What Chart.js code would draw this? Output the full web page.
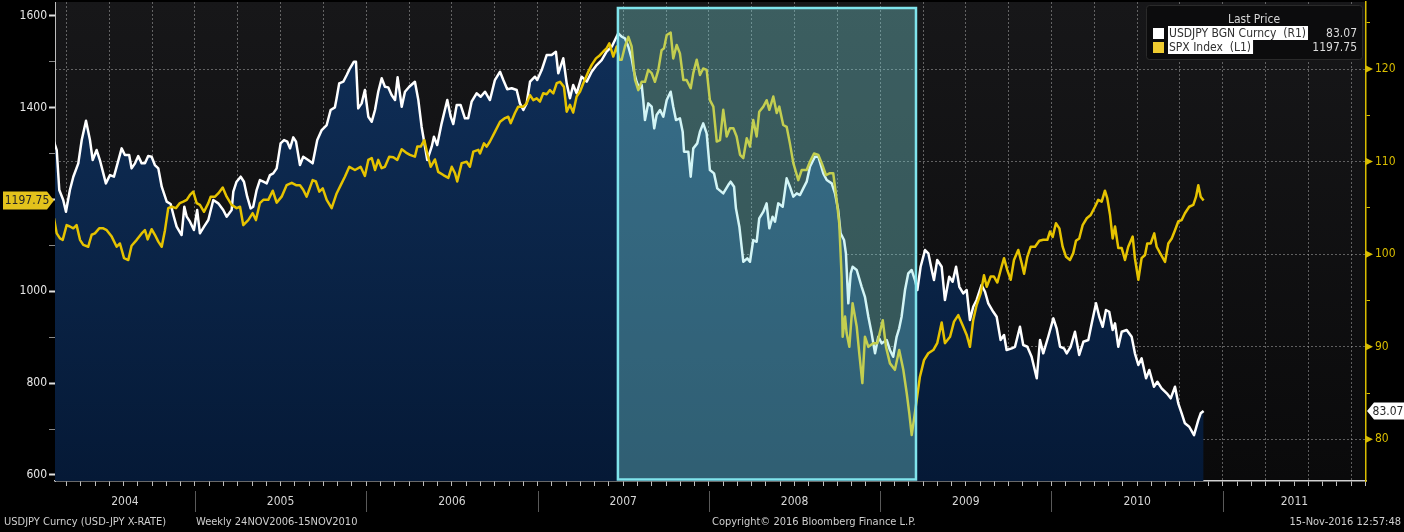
<!DOCTYPE html>
<html>
<head>
<meta charset="utf-8">
<title>USDJPY vs SPX</title>
<script src="https://cdn.jsdelivr.net/npm/chart.js@4.4.1/dist/chart.umd.min.js"></script>
<style>
    html, body { margin: 0; padding: 0; background: #000; }
    #wrap { width: 1404px; height: 532px; }
</style>
</head>
<body>
<div id="wrap"><canvas id="chart" width="1404" height="532"></canvas></div>
<script>
/* ─────────────────────────────────────────
   DATA — weekly closes, dates in decimal years
───────────────────────────────────────── */
const jpyDates = [
    2004.177, 2004.193, 2004.208, 2004.231, 2004.247, 2004.270, 2004.290, 2004.319, 2004.339, 2004.364,
    2004.387, 2004.403, 2004.426, 2004.445, 2004.465, 2004.480, 2004.504, 2004.527, 2004.543, 2004.572,
    2004.591, 2004.616, 2004.630, 2004.650, 2004.669, 2004.689, 2004.708, 2004.727, 2004.747, 2004.766,
    2004.786, 2004.806, 2004.835, 2004.858, 2004.877, 2004.893, 2004.922, 2004.938, 2004.952, 2004.971,
    2004.994, 2005.013, 2005.029, 2005.053, 2005.078, 2005.107, 2005.136, 2005.165, 2005.185, 2005.214,
    2005.224, 2005.243, 2005.267, 2005.286, 2005.305, 2005.325, 2005.340, 2005.360, 2005.379, 2005.399,
    2005.419, 2005.438, 2005.457, 2005.477, 2005.500, 2005.520, 2005.539, 2005.555, 2005.574, 2005.590,
    2005.613, 2005.632, 2005.661, 2005.687, 2005.714, 2005.740, 2005.769, 2005.792, 2005.817, 2005.827,
    2005.842, 2005.866, 2005.886, 2005.905, 2005.928, 2005.940, 2005.953, 2005.973, 2005.992, 2006.012,
    2006.032, 2006.051, 2006.070, 2006.090, 2006.109, 2006.128, 2006.148, 2006.168, 2006.183, 2006.207,
    2006.226, 2006.251, 2006.284, 2006.304, 2006.323, 2006.333, 2006.356, 2006.382, 2006.395, 2006.414,
    2006.440, 2006.473, 2006.493, 2006.508, 2006.528, 2006.551, 2006.576, 2006.595, 2006.615, 2006.644,
    2006.668, 2006.693, 2006.722, 2006.751, 2006.781, 2006.800, 2006.823, 2006.849, 2006.878, 2006.897,
    2006.917, 2006.936, 2006.956, 2006.985, 2006.998, 2007.024, 2007.053, 2007.082, 2007.107, 2007.121,
    2007.150, 2007.170, 2007.189, 2007.208, 2007.228, 2007.257, 2007.287, 2007.316, 2007.345, 2007.374,
    2007.403, 2007.433, 2007.452, 2007.471, 2007.491, 2007.510, 2007.530, 2007.549, 2007.563, 2007.578,
    2007.594, 2007.608, 2007.617, 2007.627, 2007.646, 2007.666, 2007.681, 2007.695, 2007.715, 2007.734,
    2007.754, 2007.777, 2007.792, 2007.808, 2007.831, 2007.847, 2007.855, 2007.880, 2007.894, 2007.909,
    2007.932, 2007.948, 2007.967, 2007.987, 2008.006, 2008.030, 2008.049, 2008.084, 2008.113, 2008.127,
    2008.147, 2008.158, 2008.178, 2008.201, 2008.224, 2008.240, 2008.259, 2008.279, 2008.294, 2008.318,
    2008.337, 2008.353, 2008.372, 2008.386, 2008.405, 2008.431, 2008.454, 2008.473, 2008.493, 2008.513,
    2008.532, 2008.551, 2008.571, 2008.590, 2008.619, 2008.639, 2008.668, 2008.688, 2008.717, 2008.736,
    2008.755, 2008.769, 2008.789, 2008.800, 2008.814, 2008.828, 2008.839, 2008.863, 2008.892, 2008.911,
    2008.931, 2008.950, 2008.970, 2008.989, 2009.009, 2009.038, 2009.057, 2009.076, 2009.096, 2009.111,
    2009.125, 2009.145, 2009.164, 2009.184, 2009.203, 2009.217, 2009.236, 2009.262, 2009.281, 2009.301,
    2009.314, 2009.333, 2009.359, 2009.378, 2009.403, 2009.423, 2009.443, 2009.462, 2009.485, 2009.505,
    2009.524, 2009.543, 2009.563, 2009.592, 2009.612, 2009.631, 2009.660, 2009.680, 2009.703, 2009.723,
    2009.738, 2009.768, 2009.787, 2009.816, 2009.835, 2009.859, 2009.884, 2009.914, 2009.933, 2009.952,
    2009.981, 2010.011, 2010.030, 2010.050, 2010.073, 2010.089, 2010.112, 2010.137, 2010.162, 2010.186,
    2010.215, 2010.235, 2010.260, 2010.279, 2010.299, 2010.318, 2010.337, 2010.357, 2010.371, 2010.390,
    2010.410, 2010.439, 2010.468, 2010.487, 2010.507, 2010.526, 2010.552, 2010.571, 2010.598, 2010.618,
    2010.643, 2010.673, 2010.696, 2010.721, 2010.740, 2010.760, 2010.779, 2010.804, 2010.832, 2010.857,
    2010.871, 2010.888
];
const jpyValues = [
    112.15, 111.25, 106.93, 105.85, 104.59, 106.93, 108.37, 109.81, 112.33, 114.42,
    112.33, 110.17, 111.25, 110.17, 108.73, 107.65, 108.55, 108.37, 109.45, 111.43,
    110.71, 110.71, 109.27, 109.81, 110.60, 109.81, 109.81, 110.60, 110.53, 109.63,
    109.27, 107.29, 105.67, 105.42, 104.05, 102.97, 102.07, 105.13, 104.05, 103.51,
    102.61, 104.77, 102.25, 102.97, 103.69, 105.85, 105.49, 104.77, 104.05, 104.77,
    106.75, 107.83, 108.37, 107.83, 106.21, 104.95, 105.13, 106.93, 108.01, 107.83,
    107.65, 108.55, 108.73, 109.27, 111.97, 112.33, 112.15, 111.43, 112.62, 112.15,
    109.63, 110.53, 110.17, 109.81, 112.33, 113.41, 113.95, 115.57, 115.86, 116.84,
    118.45, 118.63, 119.35, 120.08, 120.79, 120.79, 115.75, 116.29, 117.73, 114.85,
    114.31, 115.57, 117.55, 119.00, 118.09, 118.02, 117.19, 116.65, 119.10, 115.93,
    117.55, 118.09, 118.63, 116.65, 113.77, 112.69, 110.17, 111.61, 112.69, 111.79,
    114.13, 116.65, 114.85, 114.06, 116.11, 116.11, 114.67, 114.67, 116.47, 117.38,
    117.01, 117.55, 116.65, 118.81, 119.71, 118.81, 117.81, 117.92, 117.73, 116.29,
    115.57, 116.29, 118.63, 119.17, 118.81, 119.89, 121.51, 121.51, 121.87, 119.54,
    121.16, 118.45, 116.84, 118.27, 117.38, 119.17, 118.63, 119.71, 120.43, 120.97,
    121.87, 122.41, 123.13, 123.86, 123.49, 123.32, 122.41, 121.16, 119.71, 118.63,
    117.92, 118.27, 116.65, 114.49, 116.29, 115.93, 113.59, 115.03, 115.57, 114.85,
    116.65, 117.55, 115.93, 114.49, 114.67, 113.23, 111.07, 111.07, 108.37, 111.43,
    111.97, 113.23, 114.13, 113.05, 109.09, 108.73, 107.11, 106.57, 107.47, 107.83,
    107.29, 104.95, 102.97, 99.18, 99.55, 99.18, 101.53, 101.34, 103.87, 104.59,
    105.49, 102.79, 104.05, 103.51, 105.49, 105.13, 108.19, 107.29, 106.21, 106.57,
    106.39, 107.11, 107.83, 109.45, 110.53, 110.53, 108.73, 108.01, 107.65, 106.57,
    104.77, 102.25, 101.53, 100.09, 94.69, 97.93, 98.64, 98.29, 96.48, 95.40,
    93.24, 91.45, 89.29, 91.08, 90.37, 90.73, 89.65, 88.92, 91.08, 91.99,
    93.24, 96.13, 97.93, 98.29, 97.21, 96.13, 98.64, 100.45, 100.09, 98.29,
    97.21, 99.37, 98.64, 95.05, 97.56, 97.02, 98.64, 96.48, 95.77, 96.13,
    92.89, 94.32, 95.05, 96.67, 95.94, 94.69, 93.78, 93.24, 90.73, 91.27,
    89.65, 89.83, 90.00, 92.16, 90.19, 90.00, 88.92, 86.59, 90.73, 89.29,
    91.08, 93.07, 91.99, 90.00, 89.83, 89.29, 90.00, 91.62, 89.11, 90.54,
    90.73, 92.53, 94.69, 93.24, 92.16, 93.97, 93.78, 91.81, 92.53, 90.00,
    91.62, 91.81, 91.08, 89.29, 88.03, 88.75, 86.59, 87.49, 85.68, 86.22,
    85.51, 84.97, 84.43, 85.68, 83.89, 82.81, 81.73, 81.36, 80.46, 82.08,
    82.81, 83.07
];

const spxDates = [
    2004.177, 2004.193, 2004.212, 2004.228, 2004.251, 2004.270, 2004.290, 2004.309, 2004.329, 2004.348,
    2004.377, 2004.397, 2004.416, 2004.441, 2004.465, 2004.485, 2004.514, 2004.543, 2004.562, 2004.586,
    2004.611, 2004.630, 2004.660, 2004.689, 2004.708, 2004.724, 2004.747, 2004.766, 2004.786, 2004.806,
    2004.825, 2004.844, 2004.864, 2004.889, 2004.912, 2004.932, 2004.952, 2004.971, 2004.990, 2005.010,
    2005.029, 2005.053, 2005.078, 2005.092, 2005.117, 2005.136, 2005.162, 2005.185, 2005.214, 2005.243,
    2005.263, 2005.282, 2005.311, 2005.337, 2005.356, 2005.379, 2005.399, 2005.428, 2005.454, 2005.477,
    2005.506, 2005.535, 2005.565, 2005.590, 2005.613, 2005.632, 2005.652, 2005.687, 2005.706, 2005.726,
    2005.746, 2005.769, 2005.798, 2005.827, 2005.851, 2005.876, 2005.901, 2005.934, 2005.967, 2005.992,
    2006.012, 2006.032, 2006.051, 2006.070, 2006.090, 2006.109, 2006.134, 2006.158, 2006.181, 2006.207,
    2006.232, 2006.255, 2006.284, 2006.298, 2006.318, 2006.339, 2006.356, 2006.376, 2006.401, 2006.420,
    2006.450, 2006.479, 2006.499, 2006.518, 2006.531, 2006.557, 2006.586, 2006.605, 2006.625, 2006.654,
    2006.664, 2006.687, 2006.703, 2006.722, 2006.751, 2006.781, 2006.810, 2006.829, 2006.843, 2006.868,
    2006.887, 2006.917, 2006.936, 2006.956, 2006.975, 2006.995, 2007.014, 2007.033, 2007.053, 2007.072,
    2007.092, 2007.112, 2007.131, 2007.154, 2007.170, 2007.189, 2007.208, 2007.228, 2007.248, 2007.267,
    2007.296, 2007.316, 2007.341, 2007.364, 2007.384, 2007.403, 2007.419, 2007.442, 2007.462, 2007.477,
    2007.491, 2007.510, 2007.530, 2007.549, 2007.569, 2007.588, 2007.608, 2007.627, 2007.646, 2007.666,
    2007.685, 2007.705, 2007.724, 2007.738, 2007.754, 2007.777, 2007.792, 2007.812, 2007.831, 2007.851,
    2007.870, 2007.894, 2007.909, 2007.929, 2007.948, 2007.967, 2007.987, 2008.006, 2008.026, 2008.046,
    2008.065, 2008.084, 2008.104, 2008.123, 2008.143, 2008.162, 2008.182, 2008.201, 2008.221, 2008.240,
    2008.259, 2008.279, 2008.294, 2008.318, 2008.337, 2008.353, 2008.376, 2008.396, 2008.411, 2008.434,
    2008.454, 2008.473, 2008.493, 2008.522, 2008.542, 2008.571, 2008.590, 2008.614, 2008.639, 2008.659,
    2008.684, 2008.707, 2008.726, 2008.746, 2008.761, 2008.775, 2008.781, 2008.795, 2008.804, 2008.820,
    2008.839, 2008.863, 2008.878, 2008.896, 2008.911, 2008.931, 2008.960, 2008.983, 2009.015, 2009.034,
    2009.057, 2009.086, 2009.111, 2009.135, 2009.155, 2009.170, 2009.184, 2009.197, 2009.213, 2009.232,
    2009.256, 2009.281, 2009.310, 2009.333, 2009.359, 2009.378, 2009.408, 2009.431, 2009.456, 2009.485,
    2009.505, 2009.524, 2009.543, 2009.563, 2009.587, 2009.606, 2009.622, 2009.645, 2009.664, 2009.684,
    2009.709, 2009.723, 2009.742, 2009.762, 2009.781, 2009.806, 2009.826, 2009.840, 2009.859, 2009.879,
    2009.904, 2009.929, 2009.952, 2009.976, 2009.991, 2010.007, 2010.026, 2010.046, 2010.065, 2010.085,
    2010.108, 2010.127, 2010.143, 2010.162, 2010.182, 2010.206, 2010.229, 2010.254, 2010.273, 2010.293,
    2010.312, 2010.326, 2010.342, 2010.357, 2010.371, 2010.390, 2010.410, 2010.429, 2010.448, 2010.474,
    2010.487, 2010.507, 2010.526, 2010.546, 2010.559, 2010.579, 2010.600, 2010.614, 2010.634, 2010.663,
    2010.682, 2010.702, 2010.721, 2010.740, 2010.760, 2010.779, 2010.804, 2010.828, 2010.844, 2010.857,
    2010.871, 2010.888
];
const spxValues = [
    1159, 1126, 1115, 1112, 1144, 1141, 1137, 1144, 1112, 1101,
    1097, 1123, 1126, 1137, 1137, 1133, 1119, 1097, 1104, 1072,
    1068, 1099, 1112, 1126, 1133, 1113, 1135, 1123, 1108, 1097,
    1133, 1181, 1184, 1181, 1192, 1195, 1199, 1210, 1217, 1192,
    1188, 1173, 1192, 1206, 1206, 1213, 1226, 1206, 1188, 1181,
    1184, 1144, 1155, 1170, 1155, 1192, 1199, 1199, 1219, 1193,
    1206, 1231, 1236, 1231, 1231, 1221, 1206, 1242, 1239, 1217,
    1224, 1199, 1181, 1213, 1231, 1250, 1271, 1264, 1271, 1251,
    1286, 1290, 1264, 1286, 1268, 1271, 1293, 1292, 1286, 1309,
    1302, 1297, 1293, 1315, 1315, 1329, 1300, 1271, 1287, 1260,
    1253, 1247, 1271, 1257, 1239, 1279, 1282, 1271, 1304, 1308,
    1300, 1322, 1315, 1326, 1347, 1369, 1377, 1380, 1366, 1388,
    1402, 1402, 1409, 1427, 1416, 1420, 1413, 1431, 1429, 1438,
    1431, 1453, 1456, 1445, 1391, 1406, 1389, 1424, 1435, 1453,
    1478, 1493, 1507, 1514, 1522, 1529, 1540, 1511, 1533, 1504,
    1504, 1533, 1554, 1533, 1460, 1438, 1456, 1456, 1482, 1475,
    1456, 1482, 1525, 1529, 1558, 1563, 1507, 1536, 1518, 1460,
    1460, 1442, 1475, 1504, 1471, 1485, 1482, 1416, 1402, 1326,
    1329, 1395, 1337, 1355, 1355, 1337, 1297, 1290, 1333, 1315,
    1373, 1337, 1391, 1402, 1416, 1395, 1424, 1388, 1402, 1362,
    1358, 1322, 1279, 1242, 1264, 1264, 1282, 1300, 1297, 1279,
    1253, 1257, 1257, 1199, 1148, 1032, 901, 945, 909, 879,
    974, 923, 865, 800, 901, 879, 887, 887, 937, 879,
    843, 829, 872, 829, 778, 734, 687, 720, 763, 814,
    850, 865, 872, 887, 932, 887, 901, 934, 948, 923,
    905, 879, 937, 970, 996, 1035, 1010, 1032, 1032, 1019,
    1054, 1072, 1046, 1025, 1068, 1090, 1061, 1038, 1075, 1097,
    1097, 1110, 1112, 1112, 1130, 1118, 1148, 1137, 1097, 1075,
    1068, 1083, 1110, 1115, 1144, 1159, 1166, 1184, 1199, 1195,
    1219, 1202, 1166, 1115, 1141, 1094, 1094, 1068, 1097, 1119,
    1072, 1025, 1072, 1079, 1104, 1104, 1126, 1097, 1083, 1064,
    1104, 1115, 1133, 1152, 1155, 1170, 1184, 1188, 1206, 1231,
    1206, 1197.75
];

const yearLabels = [2004, 2005, 2006, 2007, 2008, 2009, 2010, 2011];
const spxTicks = [600, 700, 800, 900, 1000, 1100, 1200, 1300, 1400, 1500, 1600];
const jpyTicks = [80, 85, 90, 95, 100, 105, 110, 115, 120, 125];
const highlightFrom = 2007.469;
const highlightTo = 2009.209;

const FONT = '"DejaVu Sans Condensed", "Liberation Sans", sans-serif';
const YELLOW = '#e6c300';
const AXIS_YELLOW = '#d9bd00';

const lastJpy = jpyValues[jpyValues.length - 1];
const lastSpx = spxValues[spxValues.length - 1];

/* ─────────────────────────────────────────
   HELPERS
───────────────────────────────────────── */
function monthTicks(min, max) {
    const out = [];
    for (let k = Math.ceil(min * 12); k <= Math.floor(max * 12); k++) out.push({value: k / 12});
    return out;
}
function isQuarter(v) {
    return Math.abs(v * 4 - Math.round(v * 4)) < 1e-6;
}
function noPad(s) {
    s.paddingTop = 0;
    s.paddingBottom = 0;
    s.paddingLeft = 0;
    s.paddingRight = 0;
}
function tag(ctx, pts, fill) {
    ctx.beginPath();
    ctx.moveTo(pts[0][0], pts[0][1]);
    for (let i = 1; i < pts.length; i++) ctx.lineTo(pts[i][0], pts[i][1]);
    ctx.closePath();
    ctx.fillStyle = fill;
    ctx.fill();
}

/* ─────────────────────────────────────────
   PLUGIN — Bloomberg frame, highlight, legend
───────────────────────────────────────── */
const frame = {
    id: 'frame',
    beforeDraw(chart) {
        const {ctx, chartArea: a} = chart;
        ctx.save();
        ctx.fillStyle = '#000';
        ctx.fillRect(0, 0, chart.width, chart.height);
        const g = ctx.createLinearGradient(0, a.top, 0, a.bottom);
        g.addColorStop(0, '#171719');
        g.addColorStop(1, '#0a0a0b');
        ctx.fillStyle = g;
        ctx.fillRect(a.left, a.top, a.right - a.left, a.bottom - a.top);
        ctx.restore();
    },
    afterDatasetsDraw(chart) {
        const {ctx, chartArea: a, scales: {x}} = chart;
        const x1 = x.getPixelForValue(highlightFrom);
        const x2 = x.getPixelForValue(highlightTo);
        const y1 = a.top + 6, y2 = a.bottom - 1.5;
        ctx.save();
        ctx.fillStyle = 'rgba(128,226,228,0.35)';
        ctx.fillRect(x1, y1, x2 - x1, y2 - y1);
        ctx.strokeStyle = '#80e4ec';
        ctx.lineWidth = 2.5;
        ctx.strokeRect(x1, y1, x2 - x1, y2 - y1);
        ctx.restore();
    },
    afterDraw(chart) {
        const {ctx, chartArea: a, scales: {x, yL, yR}} = chart;
        ctx.save();

        // right axis arrow markers
        ctx.fillStyle = AXIS_YELLOW;
        jpyTicks.filter(v => v % 10 === 0).forEach(v => {
            const y = yR.getPixelForValue(v);
            ctx.beginPath();
            ctx.moveTo(a.right, y - 3.5);
            ctx.lineTo(a.right + 7, y);
            ctx.lineTo(a.right, y + 3.5);
            ctx.closePath();
            ctx.fill();
        });

        // year labels + separators
        ctx.font = '12px ' + FONT;
        ctx.textAlign = 'center';
        ctx.textBaseline = 'middle';
        yearLabels.forEach(yr => {
            const l = Math.max(x.getPixelForValue(yr), a.left);
            const r = Math.min(x.getPixelForValue(yr + 1), a.right);
            ctx.fillStyle = '#d6d6d6';
            ctx.fillText(String(yr), (l + r) / 2, 502);
            if (yr > x.min && yr < x.max) {
                const px = Math.round(x.getPixelForValue(yr)) + 0.5;
                ctx.strokeStyle = '#595959';
                ctx.lineWidth = 1;
                ctx.beginPath();
                ctx.moveTo(px, 491);
                ctx.lineTo(px, 512);
                ctx.stroke();
            }
        });

        // footer
        ctx.font = '11px ' + FONT;
        ctx.fillStyle = '#cfcfcf';
        ctx.textAlign = 'left';
        ctx.fillText('USDJPY Curncy (USD-JPY X-RATE)', 4, 522);
        ctx.fillText('Weekly 24NOV2006-15NOV2010', 196, 522);
        ctx.fillText('Copyright\u00a9 2016 Bloomberg Finance L.P.', 712, 522);
        ctx.textAlign = 'right';
        ctx.fillText('15-Nov-2016 12:57:48', 1401, 522);

        // last price tags
        const ys = yL.getPixelForValue(lastSpx);
        tag(ctx, [[3, ys - 9], [a.left - 8, ys - 9], [a.left - 1, ys], [a.left - 8, ys + 9], [3, ys + 9]], '#e3c21c');
        ctx.font = '12px ' + FONT;
        ctx.fillStyle = '#262626';
        ctx.textAlign = 'center';
        ctx.fillText(lastSpx.toFixed(2), 27, ys + 0.5);

        const yj = yR.getPixelForValue(lastJpy);
        tag(ctx, [[a.right + 1, yj], [a.right + 8, yj - 8.5], [1404, yj - 8.5], [1404, yj + 8.5], [a.right + 8, yj + 8.5]], '#ffffff');
        ctx.fillStyle = '#262626';
        ctx.fillText(lastJpy.toFixed(2), 1388, yj + 0.5);

        // legend box
        ctx.fillStyle = '#0c0c0d';
        ctx.strokeStyle = '#2a2a2a';
        ctx.lineWidth = 1;
        ctx.beginPath();
        ctx.roundRect(1146.5, 5.5, 216, 54, 3);
        ctx.fill();
        ctx.stroke();

        ctx.fillStyle = '#d8d8d8';
        ctx.textAlign = 'center';
        ctx.fillText('Last Price', 1254, 20);

        const rows = [
            {sw: '#ffffff', name: 'USDJPY BGN Curncy  (R1)', val: lastJpy.toFixed(2), y: 33},
            {sw: '#f0cc30', name: 'SPX Index  (L1)', val: lastSpx.toFixed(2), y: 47}
        ];
        rows.forEach(r => {
            ctx.fillStyle = r.sw;
            ctx.fillRect(1153, r.y - 5, 11, 11);
            const w = ctx.measureText(r.name).width;
            ctx.fillStyle = '#ffffff';
            ctx.fillRect(1168, r.y - 7, w + 3, 14);
            ctx.fillStyle = '#303030';
            ctx.textAlign = 'left';
            ctx.fillText(r.name, 1169, r.y + 0.5);
            ctx.fillStyle = '#dcdcdc';
            ctx.textAlign = 'right';
            ctx.fillText(r.val, 1357, r.y + 0.5);
        });

        ctx.restore();
    }
};

/* ─────────────────────────────────────────
   CHART
───────────────────────────────────────── */
const X_MIN = 2004.183, X_MAX = 2011.836;

const ctx = document.getElementById('chart');
new Chart(ctx, {
    type: 'line',
    data: {
        datasets: [
            {
                label: 'SPX Index (L1)',
                data: spxDates.map((d, i) => ({x: d, y: spxValues[i]})),
                yAxisID: 'yL',
                borderColor: YELLOW,
                borderWidth: 2.5,
                pointRadius: 0,
                tension: 0,
                fill: false,
                borderJoinStyle: 'round',
            },
            {
                label: 'USDJPY BGN Curncy (R1)',
                data: jpyDates.map((d, i) => ({x: d, y: jpyValues[i]})),
                yAxisID: 'yR',
                borderColor: '#ffffff',
                borderWidth: 2.5,
                pointRadius: 0,
                tension: 0,
                fill: 'start',
                borderJoinStyle: 'round',
                backgroundColor: (c) => {
                    const a = c.chart.chartArea;
                    if (!a) return '#0b2647';
                    const g = c.chart.ctx.createLinearGradient(0, a.top, 0, a.bottom);
                    g.addColorStop(0, '#10305a');
                    g.addColorStop(1, '#051936');
                    return g;
                },
            }
        ]
    },
    options: {
        responsive: false,
        animation: false,
        layout: {padding: {top: 2, left: 0, right: 0, bottom: 0}},
        plugins: {legend: {display: false}, tooltip: {enabled: false}},
        scales: {
            x: {
                type: 'linear',
                min: X_MIN,
                max: X_MAX,
                afterBuildTicks: s => { s.ticks = monthTicks(X_MIN, X_MAX); },
                afterFit: s => { s.height = 51; noPad(s); },
                ticks: {display: false},
                grid: {
                    color: c => (c.tick && isQuarter(c.tick.value)) ? 'rgba(175,175,175,0.5)' : 'rgba(0,0,0,0)',
                    tickColor: '#bdbdbd',
                    tickLength: 5,
                    lineWidth: 1,
                },
                border: {display: true, color: '#d0d0d0', width: 1.5, dash: [2, 2]},
            },
            yL: {
                type: 'linear',
                position: 'left',
                min: 586.9,
                max: 1629.8,
                afterBuildTicks: s => { s.ticks = spxTicks.map(v => ({value: v})); },
                afterFit: s => { s.width = 55; noPad(s); },
                ticks: {
                    color: '#e6e6e6',
                    font: {family: FONT, size: 12},
                    padding: 2,
                    callback: v => (v % 200 === 0 && v !== 1200) ? String(v) : '',
                },
                grid: {
                    drawOnChartArea: false,
                    tickLength: 6,
                    tickColor: c => (c.tick && c.tick.value % 200 === 0) ? '#e0e0e0' : '#8a8a8a',
                    tickWidth: c => (c.tick && c.tick.value % 200 === 0) ? 2 : 1,
                },
                border: {display: true, color: '#bdbdbd', width: 1},
            },
            yR: {
                type: 'linear',
                position: 'right',
                min: 75.50,
                max: 127.24,
                afterBuildTicks: s => { s.ticks = jpyTicks.map(v => ({value: v})); },
                afterFit: s => { s.width = 38; noPad(s); },
                ticks: {
                    color: AXIS_YELLOW,
                    font: {family: FONT, size: 12},
                    padding: 5,
                    callback: v => v % 10 === 0 ? String(v) : '',
                },
                grid: {
                    color: c => (c.tick && c.tick.value % 10 === 0) ? 'rgba(175,175,175,0.5)' : 'rgba(0,0,0,0)',
                    tickColor: c => (c.tick && c.tick.value % 10 === 0) ? 'rgba(0,0,0,0)' : AXIS_YELLOW,
                    tickLength: 4,
                    lineWidth: 1,
                },
                border: {display: true, color: AXIS_YELLOW, width: 1.5, dash: [2, 2]},
            }
        }
    },
    plugins: [frame]
});
</script>
</body>
</html>
